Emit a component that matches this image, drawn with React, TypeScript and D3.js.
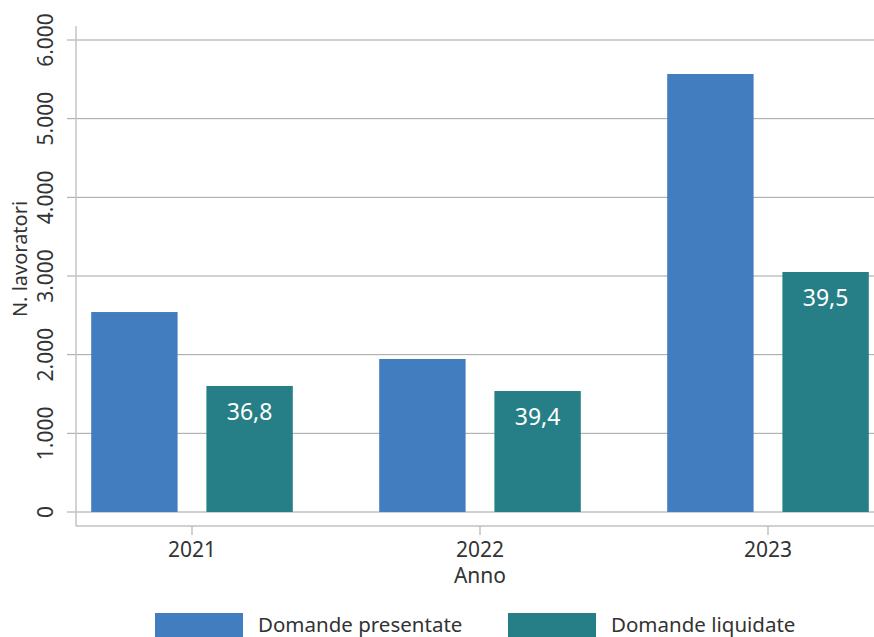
import { useEffect, useRef } from 'react'
import * as d3 from 'd3'

const years = ['2021', '2022', '2023']
const seriesNames = ['Domande presentate', 'Domande liquidate']
const presentate = [2542, 1945, 5568]
const liquidate = [1602, 1538, 3051]
const liquidateLabels = ['36,8', '39,4', '39,5']
const yTicks = [0, 1000, 2000, 3000, 4000, 5000, 6000]
const colors = ['#427dbf', '#267f86']

const FONT = '"Noto Sans", "Open Sans", sans-serif'

export default function App() {
  const rootRef = useRef<SVGSVGElement>(null)

  useEffect(() => {
    const width = 874
    const height = 637
    const svg = d3.select(rootRef.current).attr('width', width).attr('height', height)
    svg.selectAll('*').remove()

    const axisX = 76
    const axisY = 526

    const y = d3.scaleLinear().domain([0, 6000]).range([512, 40])
    const x0 = d3.scaleBand<string>().domain(years).range([48, 912]).paddingInner(0.3).paddingOuter(0.15)
    const x1 = d3.scaleBand<string>().domain(seriesNames).range([0, x0.bandwidth()]).paddingInner(0.25)

    const fmt = (v: number) => d3.format(',')(v).replace(/,/g, '.')

    // gridlines + y ticks
    svg
      .append('g')
      .selectAll('line')
      .data(yTicks)
      .join('line')
      .attr('x1', axisX - 9)
      .attr('x2', width)
      .attr('y1', (d) => y(d))
      .attr('y2', (d) => y(d))
      .attr('stroke', '#a3a3a3')
      .attr('stroke-width', 1)

    // axis lines
    svg
      .append('line')
      .attr('x1', axisX)
      .attr('x2', axisX)
      .attr('y1', 26)
      .attr('y2', axisY)
      .attr('stroke', '#c4c4c4')
      .attr('stroke-width', 1.5)
    svg
      .append('line')
      .attr('x1', axisX)
      .attr('x2', width)
      .attr('y1', axisY)
      .attr('y2', axisY)
      .attr('stroke', '#a3a3a3')
      .attr('stroke-width', 1)

    // y tick labels
    svg
      .append('g')
      .selectAll('text')
      .data(yTicks)
      .join('text')
      .attr('transform', (d) => `translate(53,${y(d)}) rotate(-90)`)
      .attr('text-anchor', 'middle')
      .attr('font-family', FONT)
      .attr('font-size', 21)
      .attr('fill', '#333')
      .text((d) => fmt(d))

    svg
      .append('text')
      .attr('transform', 'translate(27,259) rotate(-90)')
      .attr('text-anchor', 'middle')
      .attr('font-family', FONT)
      .attr('font-size', 20)
      .attr('fill', '#333')
      .text('N. lavoratori')

    // bars
    const groups = svg
      .append('g')
      .selectAll('g')
      .data(years)
      .join('g')
      .attr('transform', (d) => `translate(${x0(d)},0)`)

    groups
      .append('rect')
      .attr('x', x1(seriesNames[0])!)
      .attr('width', x1.bandwidth())
      .attr('y', (_, i) => y(presentate[i]))
      .attr('height', (_, i) => y(0) - y(presentate[i]))
      .attr('fill', colors[0])

    groups
      .append('rect')
      .attr('x', x1(seriesNames[1])!)
      .attr('width', x1.bandwidth())
      .attr('y', (_, i) => y(liquidate[i]))
      .attr('height', (_, i) => y(0) - y(liquidate[i]))
      .attr('fill', colors[1])

    groups
      .append('text')
      .attr('x', x1(seriesNames[1])! + x1.bandwidth() / 2)
      .attr('y', (_, i) => y(liquidate[i]) + 34)
      .attr('text-anchor', 'middle')
      .attr('font-family', FONT)
      .attr('font-size', 23)
      .attr('fill', '#ffffff')
      .text((_, i) => liquidateLabels[i])

    // x ticks
    const xt = svg
      .append('g')
      .selectAll('g')
      .data(years)
      .join('g')
      .attr('transform', (d) => `translate(${x0(d)! + x0.bandwidth() / 2},0)`)
    xt.append('line').attr('y1', axisY).attr('y2', axisY + 9).attr('stroke', '#a3a3a3')
    xt
      .append('text')
      .attr('y', 557)
      .attr('text-anchor', 'middle')
      .attr('font-family', FONT)
      .attr('font-size', 21)
      .attr('fill', '#333')
      .text((d) => d)

    svg
      .append('text')
      .attr('x', x0('2022')! + x0.bandwidth() / 2)
      .attr('y', 583)
      .attr('text-anchor', 'middle')
      .attr('font-family', FONT)
      .attr('font-size', 21)
      .attr('fill', '#333')
      .text('Anno')

    // legend
    const legendX = [155, 508]
    const leg = svg
      .append('g')
      .selectAll('g')
      .data(seriesNames)
      .join('g')
      .attr('transform', (_, i) => `translate(${legendX[i]},613)`)
    leg.append('rect').attr('width', 88).attr('height', 24).attr('fill', (_, i) => colors[i])
    leg
      .append('text')
      .attr('x', 103)
      .attr('y', 19)
      .attr('font-family', FONT)
      .attr('font-size', 20.5)
      .attr('fill', '#333')
      .text((d) => d)
  }, [])

  return <svg ref={rootRef} style={{ position: 'absolute', left: 0, top: 0 }} />
}
